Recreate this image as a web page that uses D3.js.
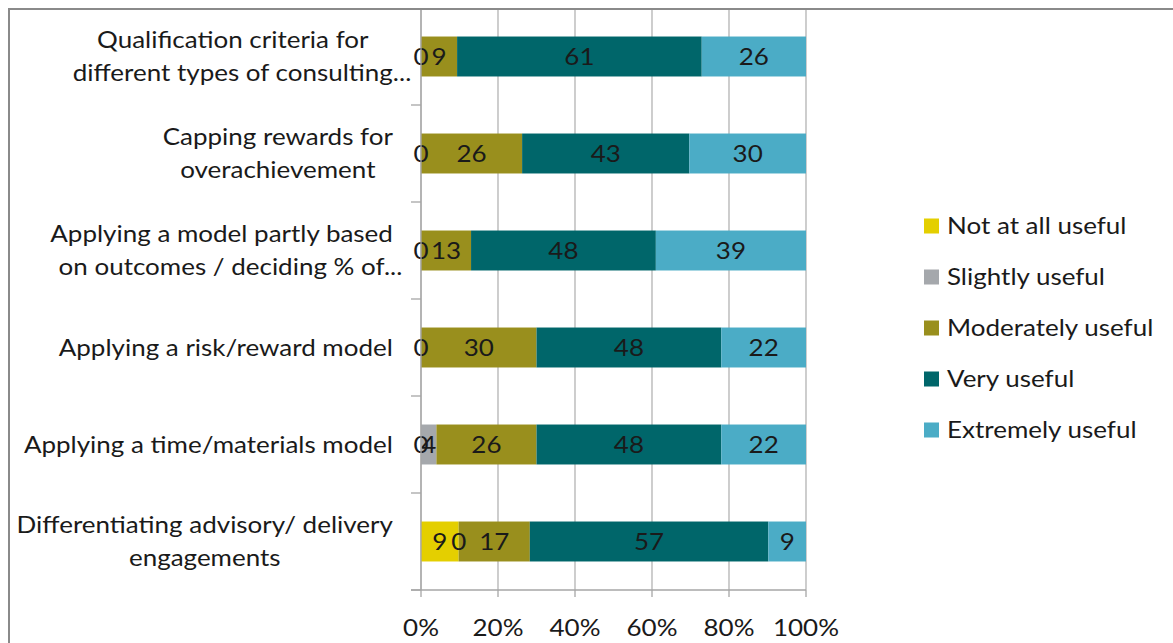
<!DOCTYPE html>
<html>
<head>
<meta charset="utf-8">
<script src="https://cdn.jsdelivr.net/npm/d3@7"></script>
<style>
  html, body { margin: 0; padding: 0; background: #fff; }
  svg { display: block; }
  text { font-family: Lato, "Open Sans", sans-serif; fill: #1a1a1a; }
</style>
</head>
<body>
<svg id="chart" width="1173" height="643"></svg>
<script>
// ---- data ----
const categories = [
  ["Qualification criteria for", "different types of consulting..."],
  ["Capping rewards for", "overachievement"],
  ["Applying a model partly based", "on outcomes / deciding % of..."],
  ["Applying a risk/reward model"],
  ["Applying a time/materials model"],
  ["Differentiating advisory/ delivery", "engagements"]
];
const seriesNames = ["Not at all useful", "Slightly useful", "Moderately useful", "Very useful", "Extremely useful"];
const notAtAll   = [0, 0, 0, 0, 0, 9];
const slightly   = [null, null, null, null, 4, 0];
const moderately = [9, 26, 13, 30, 26, 17];
const very       = [61, 43, 48, 48, 48, 57];
const extremely  = [26, 30, 39, 22, 22, 9];
const tickLabels = ["0%", "20%", "40%", "60%", "80%", "100%"];
const colors = ["#E4CF00", "#A5A8AC", "#998F1D", "#00666A", "#4BACC6"];

const seriesValues = [notAtAll, slightly, moderately, very, extremely];

// ---- layout ----
const svg = d3.select("#chart");
const plot = { left: 421, right: 806, top: 8, bottom: 590 };
const fontSize = 23;
const sx = 1.13; // horizontal text stretch of the original rendering

function place(sel, fx, fy) {
  return sel.attr("x", 0).attr("y", 0)
    .attr("transform", (d, i) => `translate(${typeof fx === "function" ? fx(d, i) : fx},${typeof fy === "function" ? fy(d, i) : fy}) scale(${sx},1)`);
}

// chart border
svg.append("rect")
  .attr("x", 9).attr("y", 9)
  .attr("width", 1200).attr("height", 700)
  .attr("fill", "none").attr("stroke", "#8a8a8a").attr("stroke-width", 2);

const x = d3.scaleLinear().domain([0, 1]).range([plot.left, plot.right]);
const y = d3.scaleBand().domain(d3.range(categories.length))
  .range([plot.top, plot.bottom]).paddingInner(0.588).paddingOuter(0.294);

// gridlines
const xTicks = d3.range(0, 1.0001, 0.2);
svg.append("g").selectAll("line").data(xTicks).join("line")
  .attr("x1", d => x(d)).attr("x2", d => x(d))
  .attr("y1", 10).attr("y2", plot.bottom)
  .attr("stroke", "#b3b3b3").attr("stroke-width", 1.3);

// stacked normalized bars
const rows = categories.map((c, i) => {
  const vals = seriesValues.map(s => s[i]);
  const total = d3.sum(vals.map(v => v || 0));
  let acc = 0;
  return vals.map((v, k) => {
    const start = acc / total;
    acc += (v || 0);
    return { row: i, series: k, value: v, x0: start, x1: acc / total };
  });
});
const segs = rows.flat();

svg.append("g").selectAll("rect").data(segs.filter(d => d.value)).join("rect")
  .attr("x", d => x(d.x0))
  .attr("width", d => x(d.x1) - x(d.x0))
  .attr("y", d => y(d.row))
  .attr("height", y.bandwidth())
  .attr("fill", d => colors[d.series]);

// data labels
place(svg.append("g").selectAll("text").data(segs.filter(d => d.value !== null)).join("text"),
    d => (x(d.x0) + x(d.x1)) / 2, d => y(d.row) + y.bandwidth() / 2)
  .attr("dy", "0.36em")
  .attr("text-anchor", "middle")
  .style("font-size", fontSize + "px")
  .text(d => d.value);

// y axis line and ticks
const yAxis = svg.append("g");
yAxis.append("line")
  .attr("x1", plot.left).attr("x2", plot.left)
  .attr("y1", 10).attr("y2", plot.bottom)
  .attr("stroke", "#a6a6a6").attr("stroke-width", 1.3);
const bounds = d3.range(categories.length + 1).map(i => plot.top + i * y.step());
yAxis.selectAll("line.t").data(bounds.slice(1)).join("line").attr("class", "t")
  .attr("x1", plot.left - 10).attr("x2", plot.left)
  .attr("y1", d => d).attr("y2", d => d)
  .attr("stroke", "#a6a6a6").attr("stroke-width", 1.3);

// x axis
const xAxis = svg.append("g");
xAxis.append("line")
  .attr("x1", plot.left - 10).attr("x2", plot.right)
  .attr("y1", plot.bottom).attr("y2", plot.bottom)
  .attr("stroke", "#a6a6a6").attr("stroke-width", 1.3);
xAxis.selectAll("line.t").data(xTicks).join("line").attr("class", "t")
  .attr("x1", d => x(d)).attr("x2", d => x(d))
  .attr("y1", plot.bottom).attr("y2", plot.bottom + 7)
  .attr("stroke", "#a6a6a6").attr("stroke-width", 1.3);
place(xAxis.selectAll("text").data(xTicks).join("text"), d => x(d), 628)
  .attr("dy", "0.36em")
  .attr("text-anchor", "middle")
  .style("font-size", fontSize + "px")
  .text((d, i) => tickLabels[i]);

// category labels (centered lines within a block right-aligned at 393)
const labelRight = 393;
const lineGap = 33;
const catG = svg.append("g");
categories.forEach((lines, i) => {
  const cy = y(i) + y.bandwidth() / 2;
  const temp = catG.append("g");
  const baseW = lines.map(l => {
    const t = temp.append("text").style("font-size", fontSize + "px").text(l.replace(/\.\.\.$/, ""));
    const w = t.node().getComputedTextLength() * sx;
    t.remove();
    return w;
  });
  temp.remove();
  const blockW = d3.max(baseW);
  const center = labelRight - blockW / 2;
  lines.forEach((l, j) => {
    place(catG.append("text"), center - baseW[j] / 2, cy + (j - (lines.length - 1) / 2) * lineGap)
      .attr("dy", "0.36em")
      .attr("text-anchor", "start")
      .style("font-size", fontSize + "px")
      .text(l);
  });
});

// legend
const legend = svg.append("g");
const legendY0 = 226, legendStep = 51;
seriesNames.forEach((name, k) => {
  const ly = legendY0 + k * legendStep;
  legend.append("rect")
    .attr("x", 924).attr("y", ly - 7.5)
    .attr("width", 15).attr("height", 15)
    .attr("fill", colors[k]);
  place(legend.append("text"), 947, ly)
    .attr("dy", "0.36em")
    .style("font-size", fontSize + "px")
    .text(name);
});
</script>
</body>
</html>
